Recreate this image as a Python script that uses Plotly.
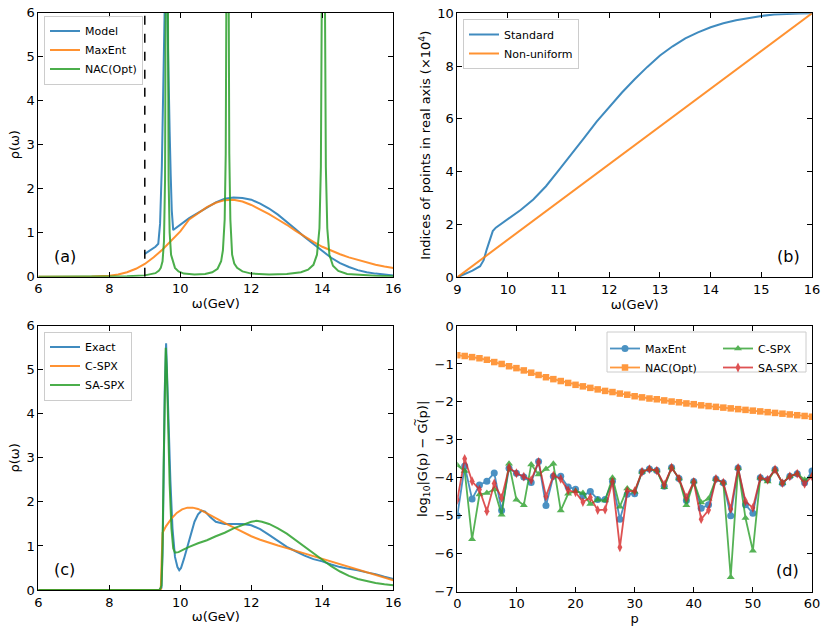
import plotly.graph_objects as go

FONT = "DejaVu Sans"
BLUE, ORANGE, GREEN, RED = "#1f77b4", "#ff7f0e", "#2ca02c", "#d62728"

# ---------------- panel (a) ----------------
a_model_x = [9.0, 9.1, 9.2, 9.3, 9.38, 9.43, 9.48, 9.52, 9.55, 9.58, 9.61, 9.64, 9.67, 9.7, 9.73, 9.76, 9.8,
             9.9, 10.0, 10.25, 10.5, 10.75, 11.0, 11.25, 11.5, 11.75, 12.0, 12.25, 12.5, 12.75, 13.0, 13.25,
             13.5, 13.75, 14.0, 14.25, 14.5, 14.75, 15.0, 15.25, 15.5, 15.75, 16.0]
a_model_y = [0.52, 0.57, 0.62, 0.68, 0.75, 1.2, 2.5, 4.0, 5.5, 7.0, 7.0, 5.5, 4.3, 3.3, 2.3, 1.5, 1.06,
             1.12, 1.2, 1.33, 1.45, 1.58, 1.69, 1.77, 1.8, 1.79, 1.75, 1.66, 1.55, 1.41, 1.25, 1.08,
             0.9, 0.74, 0.57, 0.43, 0.31, 0.22, 0.15, 0.1, 0.07, 0.05, 0.03]
a_maxent_x = [6, 7, 7.5, 8, 8.25, 8.5, 8.75, 9, 9.25, 9.5, 9.75, 10, 10.25, 10.5, 10.75, 11, 11.25, 11.5,
              11.75, 12, 12.25, 12.5, 12.75, 13, 13.25, 13.5, 13.75, 14, 14.25, 14.5, 14.75, 15, 15.25,
              15.5, 15.75, 16]
a_maxent_y = [0, 0.0, 0.005, 0.02, 0.05, 0.1, 0.18, 0.29, 0.44, 0.62, 0.82, 1.03, 1.3, 1.45, 1.58, 1.68,
              1.74, 1.75, 1.71, 1.63, 1.53, 1.42, 1.3, 1.18, 1.04, 0.91, 0.79, 0.68, 0.59, 0.51, 0.44,
              0.38, 0.32, 0.27, 0.23, 0.2]
a_nac_x = [6, 7, 8, 8.5, 9, 9.2, 9.3, 9.4, 9.45, 9.5, 9.54, 9.57, 9.6, 9.62, 9.64, 9.67, 9.7, 9.74, 9.8,
           9.85, 9.95, 10.1, 10.4, 10.7, 10.9, 11.05, 11.15, 11.2, 11.25, 11.28, 11.31, 11.33, 11.35,
           11.38, 11.41, 11.46, 11.52, 11.6, 11.75, 12.0, 12.5, 13.0, 13.4, 13.6, 13.75, 13.85, 13.92,
           13.96, 13.99, 14.01, 14.03, 14.05, 14.07, 14.1, 14.14, 14.2, 14.3, 14.45, 14.7, 15.0, 15.5, 16]
a_nac_y = [0, 0.002, 0.005, 0.01, 0.03, 0.06, 0.08, 0.14, 0.2, 0.35, 0.8, 2.2, 9, 25, 9, 2.2, 1.0, 0.5,
           0.3, 0.2, 0.12, 0.07, 0.05, 0.06, 0.1, 0.18, 0.35, 0.6, 1.3, 2.8, 9, 25, 9, 2.8, 1.3, 0.5, 0.3,
           0.2, 0.12, 0.07, 0.05, 0.06, 0.1, 0.16, 0.27, 0.5, 1.1, 2.5, 7, 20, 25, 20, 7, 2.5, 1.1, 0.5,
           0.25, 0.13, 0.06, 0.04, 0.02, 0.01]

# ---------------- panel (b) ----------------
b_std_x = [9.0, 9.15, 9.3, 9.45, 9.52, 9.58, 9.64, 9.7, 9.76, 9.85, 10.0, 10.25, 10.5, 10.75, 11.0, 11.25,
           11.5, 11.75, 12.0, 12.25, 12.5, 12.75, 13.0, 13.25, 13.5, 13.75, 14.0, 14.25, 14.5, 14.75, 15.0,
           15.25, 15.5, 15.75, 16.0]
b_std_y = [0, 0.12, 0.25, 0.42, 0.65, 1.05, 1.45, 1.75, 1.88, 2.0, 2.22, 2.55, 2.95, 3.45, 4.05, 4.65,
           5.27, 5.9, 6.45, 7.0, 7.5, 7.97, 8.4, 8.75, 9.05, 9.28, 9.47, 9.62, 9.74, 9.83, 9.9, 9.95,
           9.98, 9.99, 10.0]
b_nonu_x = [9.0, 16.0]
b_nonu_y = [0.0, 10.0]

# ---------------- panel (c) ----------------
c_exact_x = [6, 9.4, 9.47, 9.5, 9.53, 9.56, 9.6, 9.63, 9.67, 9.72, 9.78, 9.85, 9.92, 9.97, 10.02, 10.1,
             10.2, 10.3, 10.4, 10.5, 10.6, 10.7, 10.85, 11.0, 11.25, 11.5, 11.75, 12.0, 12.25, 12.5,
             12.75, 13.0, 13.25, 13.5, 13.75, 14.0, 14.25, 14.5, 14.75, 15.0, 15.25, 15.5, 15.75, 16]
c_exact_y = [0, 0, 0.05, 0.8, 2.5, 4.5, 5.6, 5.0, 3.8, 2.5, 1.4, 0.75, 0.52, 0.45, 0.5, 0.7, 1.0, 1.3,
             1.55, 1.72, 1.8, 1.78, 1.65, 1.55, 1.5, 1.5, 1.5, 1.47, 1.38, 1.25, 1.12, 0.98, 0.88, 0.78,
             0.7, 0.65, 0.58, 0.52, 0.48, 0.45, 0.4, 0.36, 0.3, 0.25]
c_cspx_x = [6, 9.45, 9.5, 9.6, 9.75, 9.9, 10.05, 10.2, 10.35, 10.5, 10.7, 10.9, 11.1, 11.3, 11.5, 11.75,
            12.0, 12.25, 12.5, 12.75, 13.0, 13.25, 13.5, 13.75, 14.0, 14.25, 14.5, 14.75, 15.0, 15.25,
            15.5, 15.75, 16]
c_cspx_y = [0, 0, 1.3, 1.45, 1.62, 1.75, 1.83, 1.87, 1.87, 1.84, 1.76, 1.67, 1.58, 1.5, 1.42, 1.32,
            1.22, 1.14, 1.07, 1.01, 0.95, 0.89, 0.82, 0.76, 0.7, 0.64, 0.58, 0.52, 0.46, 0.41, 0.35,
            0.29, 0.22]
c_saspx_x = [6, 9.42, 9.47, 9.5, 9.53, 9.56, 9.59, 9.62, 9.66, 9.7, 9.75, 9.8, 9.85, 9.95, 10.1, 10.25,
             10.5, 10.75, 11.0, 11.25, 11.5, 11.75, 12.0, 12.15, 12.3, 12.5, 12.75, 13.0, 13.25, 13.5,
             13.75, 14.0, 14.25, 14.5, 14.75, 15.0, 15.25, 15.5, 15.75, 16]
c_saspx_y = [0, 0, 0.1, 1.0, 2.8, 4.6, 5.5, 5.0, 3.6, 2.4, 1.4, 0.95, 0.85, 0.86, 0.92, 0.98, 1.06, 1.13,
             1.22, 1.3, 1.4, 1.48, 1.55, 1.57, 1.55, 1.5, 1.4, 1.28, 1.13, 0.97, 0.83, 0.68, 0.54, 0.42,
             0.32, 0.25, 0.2, 0.16, 0.13, 0.11]

# ---------------- panel (d) ----------------
d_p = [0, 1.25, 2.5, 3.75, 5, 6.25, 7.5, 8.75, 10, 11.25, 12.5, 13.75, 15, 16.25, 17.5, 18.75, 20, 21.25,
       22.5, 23.75, 25, 26.25, 27.5, 28.75, 30, 31.25, 32.5, 33.75, 35, 36.25, 37.5, 38.75, 40, 41.25,
       42.5, 43.75, 45, 46.25, 47.5, 48.75, 50, 51.25, 52.5, 53.75, 55, 56.25, 57.5, 58.75, 60]
d_maxent = [-5.0, -3.69, -4.56, -4.19, -4.09, -3.87, -4.86, -3.75, -3.88, -3.98, -4.12, -3.57, -4.73,
            -3.96, -3.96, -4.24, -4.3, -4.47, -4.36, -4.57, -4.57, -4.09, -5.09, -4.43, -4.42, -3.84,
            -3.77, -3.81, -4.22, -3.73, -4.02, -4.6, -4.1, -4.8, -4.71, -4.03, -4.13, -5.0, -3.74, -4.71,
            -4.93, -4.0, -4.05, -3.78, -4.14, -3.96, -3.89, -4.13, -3.82]
d_nac = [-0.77, -0.79, -0.82, -0.85, -0.89, -0.95, -1.0, -1.06, -1.11, -1.17, -1.23, -1.29, -1.35, -1.4,
         -1.45, -1.5, -1.55, -1.59, -1.63, -1.67, -1.71, -1.74, -1.78, -1.81, -1.85, -1.88, -1.91, -1.93,
         -1.96, -1.99, -2.01, -2.04, -2.06, -2.09, -2.11, -2.13, -2.15, -2.17, -2.19, -2.21, -2.23,
         -2.25, -2.27, -2.29, -2.31, -2.33, -2.35, -2.37, -2.39]
d_cspx = [-3.67, -3.82, -5.62, -4.44, -4.4, -4.31, -4.97, -3.63, -4.58, -4.72, -3.65, -3.91, -3.77,
          -3.63, -4.86, -4.42, -4.35, -4.4, -4.69, -4.58, -4.6, -4.0, -4.76, -4.28, -4.37, -3.84, -3.77,
          -3.81, -4.25, -3.73, -4.02, -4.72, -4.1, -4.65, -4.55, -4.03, -4.13, -6.62, -3.74, -5.06, -5.92,
          -4.0, -4.1, -3.78, -4.14, -3.96, -3.89, -4.05, -3.96]
d_saspx = [-4.58, -3.5, -4.09, -4.31, -4.88, -4.15, -4.53, -3.73, -3.88, -3.97, -4.06, -3.58, -4.49,
           -3.94, -4.03, -4.33, -4.38, -4.64, -4.52, -4.85, -4.84, -4.1, -5.83, -4.35, -4.35, -3.84,
           -3.77, -3.81, -4.18, -3.73, -4.02, -4.52, -4.11, -5.09, -4.85, -4.03, -4.13, -4.82, -3.74,
           -4.62, -4.79, -4.0, -4.05, -3.78, -4.14, -3.96, -3.89, -4.16, -3.96]

W, H = 830, 633
def px(x):
    return x / W
def py(y):
    return 1 - y / H

fig = go.Figure()
LW = 2
OP = 0.85

def line(x, y, name, color, xa, ya, leg):
    fig.add_trace(go.Scatter(x=x, y=y, name=name, mode="lines", line=dict(color=color, width=LW),
                             opacity=OP, xaxis=xa, yaxis=ya, legend=leg))

line(a_model_x, a_model_y, "Model", BLUE, "x", "y", "legend")
line(a_maxent_x, a_maxent_y, "MaxEnt", ORANGE, "x", "y", "legend")
line(a_nac_x, a_nac_y, "NAC(Opt)", GREEN, "x", "y", "legend")

line(b_std_x, b_std_y, "Standard", BLUE, "x2", "y2", "legend2")
line(b_nonu_x, b_nonu_y, "Non-uniform", ORANGE, "x2", "y2", "legend2")

line(c_exact_x, c_exact_y, "Exact", BLUE, "x3", "y3", "legend3")
line(c_cspx_x, c_cspx_y, "C-SPX", ORANGE, "x3", "y3", "legend3")
line(c_saspx_x, c_saspx_y, "SA-SPX", GREEN, "x3", "y3", "legend3")

def mline(y, name, color, sym, leg, size=7):
    fig.add_trace(go.Scatter(x=d_p, y=y, name=name, mode="lines+markers",
                             line=dict(color=color, width=1.8),
                             marker=dict(color=color, symbol=sym, size=size, line=dict(width=0)),
                             opacity=0.8, xaxis="x4", yaxis="y4", legend=leg, cliponaxis=True))

mline(d_maxent, "MaxEnt", BLUE, "circle", "legend4")
mline(d_nac, "NAC(Opt)", ORANGE, "square", "legend4", 6.5)
mline(d_cspx, "C-SPX", GREEN, "triangle-up", "legend5")
mline(d_saspx, "SA-SPX", RED, "diamond-tall", "legend5")

tickfont = dict(family=FONT, size=13, color="black")
titlefont = dict(family=FONT, size=13, color="black")

def ax(domain, rng, dtick, title, anchor, standoff=3):
    return dict(domain=domain, range=rng, dtick=dtick, tick0=0, showline=True, linecolor="black",
                linewidth=1, mirror="ticks", ticks="inside", ticklen=5, tickwidth=1,
                tickcolor="black", showgrid=False, zeroline=False, tickfont=tickfont,
                automargin=False,
                title=dict(text=title, font=titlefont, standoff=standoff), anchor=anchor)

xa = [px(38.3), px(393.3)]
xb = [px(457.3), px(812)]
ya_top = [py(276.7), py(12.7)]
yb_top = [py(277.3), py(13.3)]
yc = [py(590), py(325.7)]
yd = [py(591.7), py(326)]

legstyle = dict(font=dict(family=FONT, size=11, color="black"), bgcolor="rgba(255,255,255,0.85)",
                bordercolor="#cccccc", borderwidth=1, xanchor="left", yanchor="top",
                tracegroupgap=0, itemwidth=30)
legnob = dict(font=dict(family=FONT, size=11, color="black"), bgcolor="rgba(0,0,0,0)",
              borderwidth=0, xanchor="left", yanchor="top", tracegroupgap=0, itemwidth=30)

fig.update_layout(
    width=W, height=H, margin=dict(l=0, r=0, t=0, b=0),
    paper_bgcolor="white", plot_bgcolor="white",
    font=dict(family=FONT, size=13, color="black"),
    xaxis=ax(xa, [6, 16], 2, "ω(GeV)", "y"),
    yaxis=ax(ya_top, [0, 6], 1, "ρ(ω)", "x"),
    xaxis2=ax(xb, [9, 16], 1, "ω(GeV)", "y2"),
    yaxis2=ax(yb_top, [0, 10], 2, "Indices of points in real axis (×10<sup>4</sup>)", "x2"),
    xaxis3=ax(xa, [6, 16], 2, "ω(GeV)", "y3"),
    yaxis3=ax(yc, [0, 6], 1, "ρ(ω)", "x3"),
    xaxis4=ax(xb, [0, 60], 10, "p", "y4"),
    yaxis4=ax(yd, [-7, 0], 1, "log<sub>10</sub>|G(p) − G(p)|", "x4"),
    legend=dict(x=px(44), y=py(15.5), **legstyle),
    legend2=dict(x=px(463), y=py(19), **legstyle),
    legend3=dict(x=px(44), y=py(331.5), **legstyle),
    legend4=dict(x=px(605), y=py(334), **legnob),
    legend5=dict(x=px(718), y=py(334), **legnob),
    showlegend=True,
)

fig.add_shape(type="line", x0=9, x1=9, y0=0, y1=6, xref="x", yref="y",
              line=dict(color="black", width=1.5, dash="dash"))
fig.add_shape(type="rect", xref="paper", yref="paper", x0=px(607), x1=px(806), y0=py(372), y1=py(332),
              line=dict(color="#cccccc", width=1), fillcolor="rgba(255,255,255,0.85)", layer="above")

lab = dict(family=FONT, size=16, color="black")
for txt, xr, yr, x, y in [("(a)", "x", "y", 6.75, 0.47), ("(b)", "x2", "y2", 15.53, 0.78),
                          ("(c)", "x3", "y3", 6.75, 0.47), ("(d)", "x4", "y4", 55.9, -6.44)]:
    fig.add_annotation(text=txt, xref=xr, yref=yr, x=x, y=y, showarrow=False, font=lab)

# tilde over the second G of the (d) y-axis title
fig.add_annotation(text="~", xref="paper", yref="paper", x=px(415), y=py(428.5), showarrow=False,
                   textangle=-90, font=dict(family=FONT, size=10, color="black"))

fig.write_html("out.html", config={"displayModeBar": False},
               post_script="document.body.style.margin='0px';")
